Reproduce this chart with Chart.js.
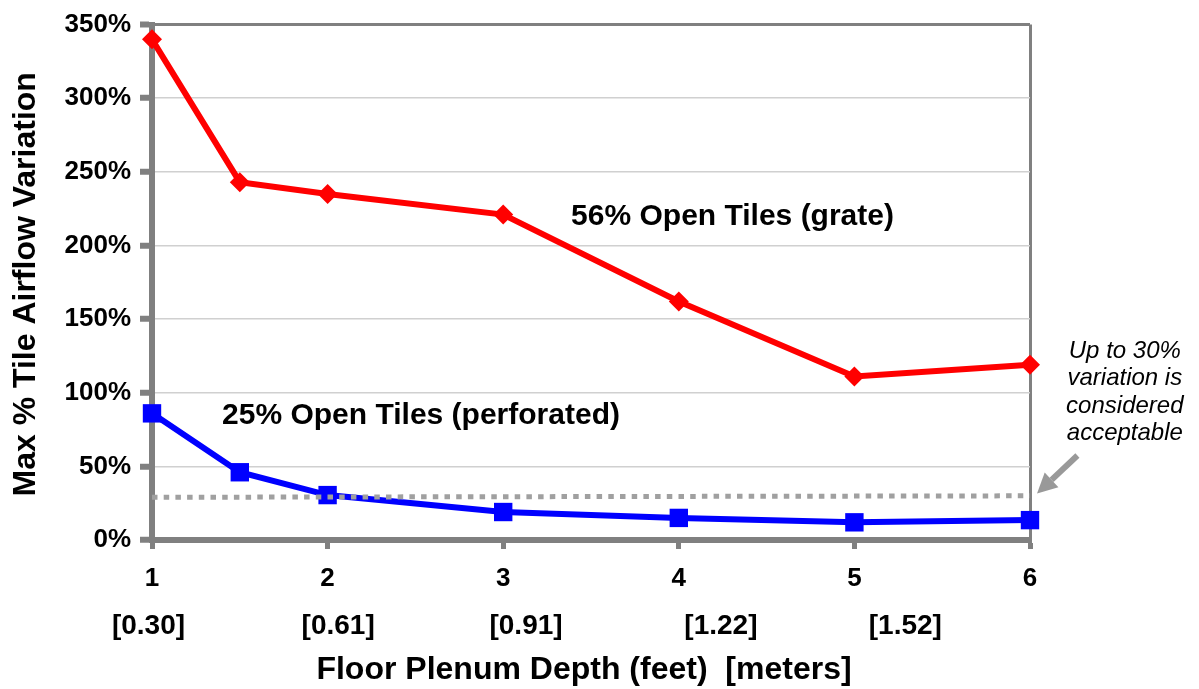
<!DOCTYPE html>
<html>
<head>
<meta charset="utf-8">
<script src="https://cdn.jsdelivr.net/npm/chart.js@4/dist/chart.umd.min.js"></script>
<style>
  html, body { margin: 0; padding: 0; background: #fff; }
  #wrap { width: 1199px; height: 689px; }
</style>
</head>
<body>
<div id="wrap"><canvas id="myChart" width="1199" height="689"></canvas></div>
<script>
// data
const depthFeet = [1, 1.5, 2, 3, 4, 5, 6];
const grateVariation = [340, 243, 235, 221, 162, 111, 119];
const perforatedVariation = [86, 46, 30.5, 19, 15, 12, 13.5];
const limitDepth = [1, 6];
const limitVariation = [29, 30];
const meterLabels = ['[0.30]', '[0.61]', '[0.91]', '[1.22]', '[1.52]'];
const meterLabelDepth = [0.98, 2.06, 3.13, 4.24, 5.29];

const FONT = '"Liberation Sans", Arial, sans-serif';
const AXIS_GRAY = '#808080';

function toPoints(xs, ys) {
  return xs.map((x, i) => ({ x: x, y: ys[i] }));
}

// text, labels and the arrow
const annotations = {
  id: 'annotations',
  afterDraw(chart) {
    const ctx = chart.ctx;
    const x = chart.scales.x;
    const y = chart.scales.y;
    const area = chart.chartArea;
    ctx.save();
    ctx.fillStyle = '#000';
    ctx.textBaseline = 'middle';

    // meters row under the feet ticks
    ctx.font = 'bold 28px ' + FONT;
    ctx.textAlign = 'center';
    meterLabels.forEach((lbl, i) => {
      ctx.fillText(lbl, x.getPixelForValue(meterLabelDepth[i]), 626);
    });

    // axis titles
    ctx.font = 'bold 32px ' + FONT;
    ctx.fillText('Floor Plenum Depth (feet)  [meters]', (area.left + area.right) / 2 - 7, 670);
    ctx.save();
    ctx.translate(26, (area.top + area.bottom) / 2 + 2);
    ctx.rotate(-Math.PI / 2);
    ctx.fillText('Max % Tile Airflow Variation', 0, 0);
    ctx.restore();

    // series labels
    ctx.font = 'bold 30px ' + FONT;
    ctx.textAlign = 'center';
    ctx.fillText('56% Open Tiles (grate)', x.getPixelForValue(4.306), y.getPixelForValue(219.5));
    ctx.textAlign = 'left';
    ctx.fillText('25% Open Tiles (perforated)', x.getPixelForValue(1.399), y.getPixelForValue(84.5));

    // note on the right
    ctx.font = 'italic 24px ' + FONT;
    ctx.textAlign = 'center';
    const noteX = x.getPixelForValue(6.54);
    const noteY = y.getPixelForValue(128.4);
    ['Up to 30%', 'variation is', 'considered', 'acceptable'].forEach((line, i) => {
      ctx.fillText(line, noteX, noteY + i * 27.6);
    });

    // arrow pointing at the dotted limit line
    const tx = x.getPixelForValue(6.27), ty = y.getPixelForValue(57.4);
    const hx = x.getPixelForValue(6.04), hy = y.getPixelForValue(31.5);
    const ang = Math.atan2(hy - ty, hx - tx);
    const headLen = 20, headW = 10;
    const bx = hx - Math.cos(ang) * headLen, by = hy - Math.sin(ang) * headLen;
    ctx.strokeStyle = '#999999';
    ctx.fillStyle = '#999999';
    ctx.lineWidth = 6;
    ctx.beginPath();
    ctx.moveTo(tx, ty);
    ctx.lineTo(bx, by);
    ctx.stroke();
    ctx.beginPath();
    ctx.moveTo(hx, hy);
    ctx.lineTo(bx + Math.sin(ang) * headW, by - Math.cos(ang) * headW);
    ctx.lineTo(bx - Math.sin(ang) * headW, by + Math.cos(ang) * headW);
    ctx.closePath();
    ctx.fill();
    ctx.restore();
  }
};

const ctx = document.getElementById('myChart');
const chart = new Chart(ctx, {
  type: 'line',
  data: {
    datasets: [
      {
        label: 'Acceptable limit',
        data: toPoints(limitDepth, limitVariation),
        borderColor: '#a0a0a0',
        borderWidth: 5,
        borderDash: [5.5, 6.2],
        borderCapStyle: 'butt',
        pointRadius: 0,
        fill: false,
        order: 0
      },
      {
        label: '56% Open Tiles (grate)',
        data: toPoints(depthFeet, grateVariation),
        borderColor: '#ff0000',
        backgroundColor: '#ff0000',
        borderWidth: 6,
        pointStyle: 'rectRot',
        pointRadius: 10,
        pointBorderWidth: 0,
        fill: false,
        lineTension: 0,
        order: 1
      },
      {
        label: '25% Open Tiles (perforated)',
        data: toPoints(depthFeet, perforatedVariation),
        borderColor: '#0000ff',
        backgroundColor: '#0000ff',
        borderWidth: 6,
        pointStyle: 'rect',
        pointRadius: 13,
        pointBorderWidth: 0,
        fill: false,
        lineTension: 0,
        order: 2
      }
    ]
  },
  options: {
    responsive: false,
    animation: false,
    clip: false,
    layout: { padding: { top: 22, right: 169, left: 0, bottom: 0 } },
    plugins: {
      legend: { display: false },
      title: { display: false },
      tooltip: { enabled: false }
    },
    scales: {
      x: {
        type: 'linear',
        min: 1,
        max: 6,
        afterFit(scale) { scale.height = 149; },
        ticks: {
          stepSize: 1,
          padding: 14,
          color: '#000',
          font: { family: FONT, size: 26, weight: 'bold' }
        },
        grid: {
          color: (c) => (c.tick && c.tick.value === 6 ? AXIS_GRAY : 'rgba(0,0,0,0)'),
          lineWidth: 3,
          tickLength: 9,
          tickWidth: 5,
          tickColor: AXIS_GRAY
        },
        border: { color: AXIS_GRAY, width: 6 }
      },
      y: {
        min: 0,
        max: 350,
        afterFit(scale) { scale.width = 152; },
        ticks: {
          stepSize: 50,
          padding: 9,
          color: '#000',
          font: { family: FONT, size: 26, weight: 'bold' },
          callback: (v) => v + '%'
        },
        grid: {
          color: (c) => (c.tick && c.tick.value === 350 ? AXIS_GRAY : '#d0d0d0'),
          lineWidth: (c) => (c.tick && c.tick.value === 350 ? 3 : 1.5),
          tickLength: 12,
          tickWidth: 6,
          tickColor: AXIS_GRAY
        },
        border: { color: AXIS_GRAY, width: 6 }
      }
    }
  },
  plugins: [annotations]
});
</script>
</body>
</html>
